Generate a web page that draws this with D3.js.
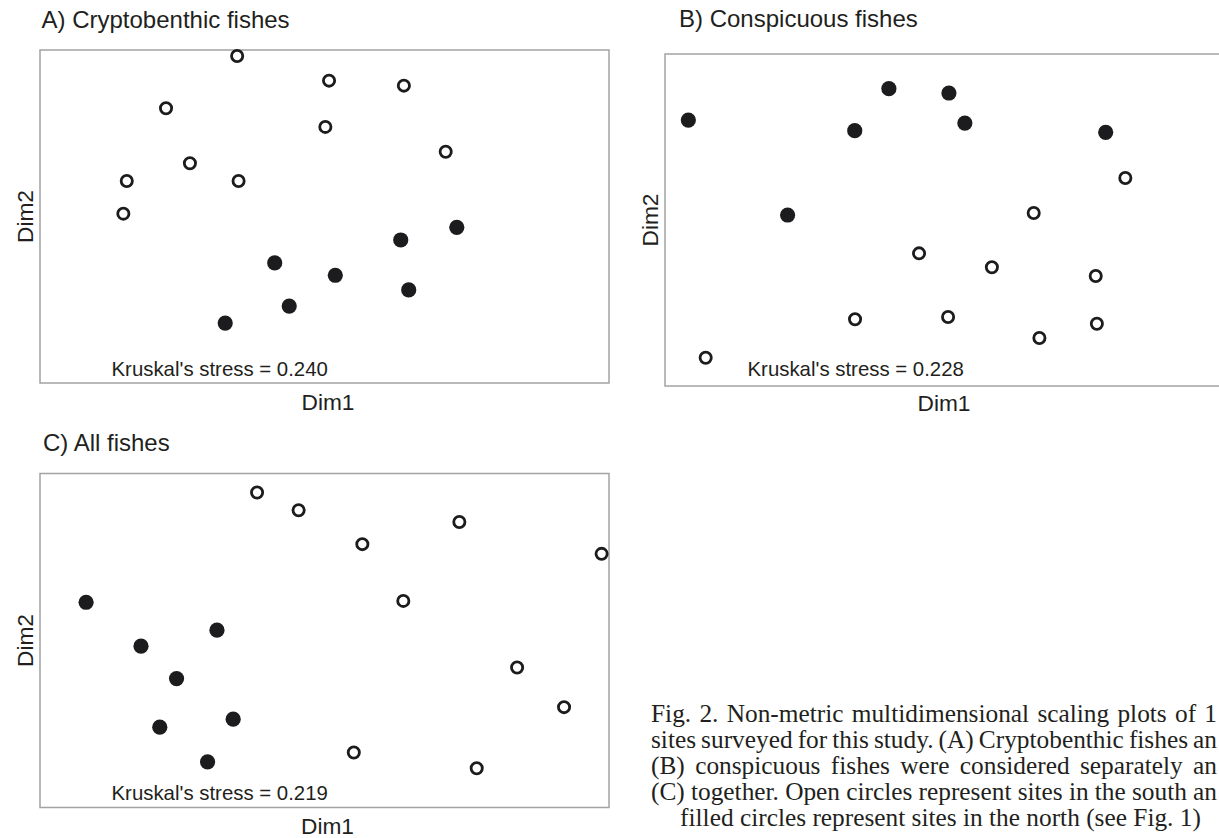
<!DOCTYPE html>
<html>
<head>
<meta charset="utf-8">
<script src="https://cdn.jsdelivr.net/npm/d3@7"></script>
<style>
  body { margin: 0; background: #fff; }
  svg { display: block; }
</style>
</head>
<body>
<svg id="fig" width="1219" height="838"></svg>
<script>
// NMDS scores (Dim1, Dim2), south = open, north = filled
const cryptoSouth = [[-0.307, 0.964], [0.016, 0.816], [0.279, 0.786], [-0.557, 0.650], [0.003, 0.538],
                     [0.426, 0.389], [-0.473, 0.320], [-0.695, 0.213], [-0.302, 0.213], [-0.707, 0.017]]
const cryptoNorth = [[0.465, -0.065], [0.268, -0.141], [-0.175, -0.279], [0.038, -0.353], [0.296, -0.441],
                     [-0.124, -0.538], [-0.349, -0.640]]

const conspSouth = [[0.618, 0.253], [0.296, 0.042], [-0.107, -0.201], [0.149, -0.285], [0.514, -0.337],
                    [-0.332, -0.598], [-0.005, -0.584], [0.518, -0.625], [0.316, -0.711], [-0.857, -0.830]]
const conspNorth = [[-0.918, 0.602], [-0.213, 0.791], [-0.002, 0.765], [-0.333, 0.538], [0.054, 0.584],
                    [0.549, 0.528], [-0.569, 0.030]]

const allSouth = [[-0.237, 0.886], [-0.091, 0.780], [0.474, 0.710], [0.133, 0.577], [0.974, 0.519],
                  [0.277, 0.237], [0.677, -0.162], [0.842, -0.399], [0.103, -0.671], [0.535, -0.765]]
const allNorth = [[-0.838, 0.229], [-0.378, 0.062], [-0.645, -0.034], [-0.520, -0.228], [-0.321, -0.471],
                  [-0.579, -0.519], [-0.411, -0.727]]

const panelTitles = ['A) Cryptobenthic fishes', 'B) Conspicuous fishes', 'C) All fishes']
const stressValues = [0.240, 0.228, 0.219]

// the caption is cropped at the right edge of the figure, as in the print
const captionLines = [
  'Fig. 2. Non-metric multidimensional scaling plots of 1',
  'sites surveyed for this study. (A) Cryptobenthic fishes an',
  '(B) conspicuous fishes were considered separately an',
  '(C) together. Open circles represent sites in the south an',
  'filled circles represent sites in the north (see Fig. 1)'
]

const svg = d3.select('#fig')
const ink = '#231f20'
const sans = "'Liberation Sans', Arial, Helvetica, sans-serif"

let panels = [
  { south: cryptoSouth, north: cryptoNorth, left: 40, top: 50, width: 569, height: 333,
    titleX: 41.5, titleY: 28, stressX: 111.5, stressY: 376, dim1X: 328, dim1Y: 409.5, dim2X: 33 },
  { south: conspSouth, north: conspNorth, left: 665, top: 54, width: 569, height: 332,
    titleX: 679, titleY: 27, stressX: 747.5, stressY: 375.5, dim1X: 944, dim1Y: 411, dim2X: 658 },
  { south: allSouth, north: allNorth, left: 40, top: 473.5, width: 569, height: 334,
    titleX: 43, titleY: 451, stressX: 111.5, stressY: 799.5, dim1X: 327.5, dim1Y: 834, dim2X: 33 }
]

panels.forEach(function(p, i) { drawPanel(p, panelTitles[i], stressValues[i]) })
drawCaption()

function drawPanel(p, title, stress) {
  let x = d3.scaleLinear().domain([-1, 1]).range([p.left, p.left + p.width])
  let y = d3.scaleLinear().domain([-1, 1]).range([p.top + p.height, p.top])
  let g = svg.append('g')

  g.append('rect')
    .attr('x', p.left)
    .attr('y', p.top)
    .attr('width', p.width)
    .attr('height', p.height)
    .attr('fill', 'none')
    .attr('stroke', '#a3a3a3')
    .attr('stroke-width', 1.5)

  g.append('text')
    .attr('x', p.titleX)
    .attr('y', p.titleY)
    .attr('font-family', sans)
    .attr('font-size', '24px')
    .attr('fill', ink)
    .text(title)

  g.append('text')
    .attr('x', p.stressX)
    .attr('y', p.stressY)
    .attr('font-family', sans)
    .attr('font-size', '20.4px')
    .attr('fill', ink)
    .text("Kruskal's stress = " + d3.format('.3f')(stress))

  g.append('text')
    .attr('x', p.dim1X)
    .attr('y', p.dim1Y)
    .attr('text-anchor', 'middle')
    .attr('font-family', sans)
    .attr('font-size', '22.7px')
    .attr('fill', ink)
    .text('Dim1')

  g.append('text')
    .attr('transform', 'translate(' + p.dim2X + ',' + y(0) + ') rotate(-90)')
    .attr('text-anchor', 'middle')
    .attr('font-family', sans)
    .attr('font-size', '22.7px')
    .attr('fill', ink)
    .text('Dim2')

  g.selectAll('circle.south')
    .data(p.south)
    .enter().append('circle')
    .attr('class', 'south')
    .attr('cx', d => x(d[0]))
    .attr('cy', d => y(d[1]))
    .attr('r', 5.6)
    .attr('fill', '#fff')
    .attr('stroke', '#1c1c1e')
    .attr('stroke-width', 2.8)

  g.selectAll('circle.north')
    .data(p.north)
    .enter().append('circle')
    .attr('class', 'north')
    .attr('cx', d => x(d[0]))
    .attr('cy', d => y(d[1]))
    .attr('r', 7.6)
    .attr('fill', '#1c1c1e')
}

function drawCaption() {
  let left = 651, right = 1217, top = 722, lineGap = 26.1
  let g = svg.append('g')
    .attr('font-family', "'Liberation Serif', 'Times New Roman', serif")
    .attr('fill', ink)

  // size the font so the last (unjustified) line has the width it has in print
  let probe = g.append('text').attr('font-size', '20px').text(captionLines[4])
  let fontSize = 20 * 521 / probe.node().getComputedTextLength()
  probe.remove()
  g.attr('font-size', fontSize + 'px')

  captionLines.forEach(function(line, i) {
    let t = g.append('text')
      .attr('y', top + i * lineGap)
      .text(line)
    if (i === captionLines.length - 1) {
      t.attr('x', 940.5).attr('text-anchor', 'middle')
    } else {
      let spaces = line.split(' ').length - 1
      let extra = (right - left - t.node().getComputedTextLength()) / spaces
      t.attr('x', left).attr('word-spacing', extra)
    }
  })
}
</script>
</body>
</html>
